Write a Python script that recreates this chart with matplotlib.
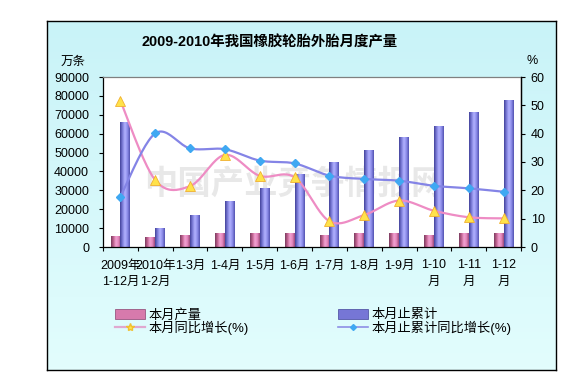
import numpy as np
import matplotlib
matplotlib.use('Agg')
import matplotlib.pyplot as plt
from matplotlib.colors import LinearSegmentedColormap
from matplotlib.patches import Patch
from matplotlib.lines import Line2D

plt.rcParams['font.family'] = ['Liberation Sans', 'Noto Sans CJK SC']

# Data
categories = ['2009年\n1-12月', '2010年\n1-2月', '1-3月', '1-4月', '1-5月', '1-6月',
              '1-7月', '1-8月', '1-9月', '1-10\n月', '1-11\n月', '1-12\n月']
month_output = [5800, 4800, 6300, 7400, 7400, 7400, 6300, 7400, 7400, 6300, 7400, 7400]
cum_output = [65700, 10000, 16900, 24300, 31200, 38600, 44600, 51300, 58200, 64000, 71000, 77800]
month_yoy = [51.6, 23.6, 21.5, 32.5, 25.1, 24.6, 9.1, 11.3, 16.4, 12.8, 10.5, 10.1]
cum_yoy = [17.8, 40.1, 34.8, 34.5, 30.5, 29.5, 25.2, 24.0, 23.4, 21.6, 20.7, 19.5]


def smooth(y, n=24):
    # Excel-style smoothed line (bezier through the points)
    x = np.arange(len(y), dtype=float)
    y = np.asarray(y, dtype=float)
    xs, ys = [], []
    for i in range(len(y) - 1):
        i0, i3 = max(i - 1, 0), min(i + 2, len(y) - 1)
        p0, p1, p2, p3 = [np.array([x[k], y[k]]) for k in (i0, i, i + 1, i3)]
        c1 = p1 + (p2 - p0) / 6
        c2 = p2 - (p3 - p1) / 6
        t = np.linspace(0, 1, n)[:, None]
        pts = (1 - t) ** 3 * p1 + 3 * (1 - t) ** 2 * t * c1 + 3 * (1 - t) * t ** 2 * c2 + t ** 3 * p2
        xs.extend(pts[:, 0]); ys.extend(pts[:, 1])
    return xs, ys


W, H = 573, 380
fig = plt.figure(figsize=(W / 100, H / 100), dpi=100)

# cyan background box
bg = fig.add_axes([47 / W, 1 - 370 / H, (556 - 47) / W, (370 - 21) / H])
bg_cmap = LinearSegmentedColormap.from_list('bg', ['#c9f3f8', '#e2fdfd'])
bg.imshow(np.linspace(0, 1, 100)[:, None], aspect='auto', cmap=bg_cmap, extent=[0, 1, 0, 1])
bg.set_xticks([]); bg.set_yticks([])
for s in bg.spines.values():
    s.set_color('black'); s.set_linewidth(1)

ax = fig.add_axes([103 / W, 1 - 247 / H, (521 - 103) / W, 170 / H])
ax.set_facecolor('white')

x = np.arange(len(categories))
bw = 0.28
pink_cmap = LinearSegmentedColormap.from_list('pk', ['#7a3b60', '#c0628f', '#f2a2d2', '#e487bd', '#9a4878'])
blue_cmap = LinearSegmentedColormap.from_list('bl', ['#42429a', '#7c7cd8', '#b2b2ff', '#8d8dea', '#5252b0'])
grad = np.linspace(0, 1, 64)[None, :]

for xs_, vals, cmap in ((x - bw / 2, month_output, pink_cmap), (x + bw / 2, cum_output, blue_cmap)):
    bars = ax.bar(xs_, vals, bw, color='none', edgecolor='none', zorder=2)
    for b in bars:
        x0, w, h = b.get_x(), b.get_width(), b.get_height()
        ax.imshow(grad, aspect='auto', cmap=cmap, extent=[x0, x0 + w, 0, h], zorder=2)

ax.set_xlim(-0.5, 11.5)
ax.set_ylim(0, 90000)
ax.set_yticks(np.arange(0, 90001, 10000))
ax.set_xticks(x)
ax.set_xticklabels(categories, fontsize=9, linespacing=1.45)
ax.set_xticks(np.arange(-0.5, 12, 1), minor=True)
ax.tick_params(axis='x', which='major', length=0, pad=9)
ax.tick_params(axis='x', which='minor', length=3, direction='out', width=0.8)
ax.tick_params(axis='y', length=3, width=0.8, pad=7, labelsize=9)
for k in ('left', 'bottom'):
    ax.spines[k].set_color('black')
ax.spines['top'].set_color('#808080')
ax.spines['right'].set_color('black')
for s in ax.spines.values():
    s.set_linewidth(0.9)

# watermark
ax.text(5.0, 33000, '中国产业竞争情报网', fontsize=24, color='#dcdcdc', alpha=0.65,
        ha='center', va='center', fontweight='bold', zorder=1.5)

ax2 = ax.twinx()
ax2.set_ylim(0, 60)
ax2.set_yticks(np.arange(0, 61, 10))
ax2.tick_params(axis='y', length=3, width=0.8, pad=4, labelsize=9)
ax2.spines['right'].set_color('black')
ax2.spines['right'].set_linewidth(0.9)
for k in ('left', 'top', 'bottom'):
    ax2.spines[k].set_visible(False)

sx, sy = smooth(month_yoy)
ax2.plot(sx, sy, color='#ee8cc4', lw=1.6, zorder=3)
ax2.plot(x, month_yoy, ls='none', marker='^', ms=6.5, mfc='#ffe24a', mec='#f0b030', mew=0.6, zorder=4)
sx, sy = smooth(cum_yoy)
ax2.plot(sx, sy, color='#8484e6', lw=1.6, zorder=3)
ax2.plot(x, cum_yoy, ls='none', marker='D', ms=4.5, mfc='#3fa8f2', mec='#3fa8f2', zorder=4)

fig.text(73 / W, 1 - 62 / H, '万条', fontsize=9, ha='center', va='center')
fig.text(532 / W, 1 - 61 / H, '%', fontsize=9, ha='center', va='center')
fig.text(270 / W, 1 - 42 / H, '2009-2010年我国橡胶轮胎外胎月度产量', fontsize=10.4,
         fontweight='bold', ha='center', va='center')

handles = [
    Patch(facecolor='#d77aac', edgecolor='#8a4470', lw=0.5),
    Line2D([], [], color='#e0a8d0', lw=1.6, marker='*', ms=6, mfc='#ffe24a', mec='#f0c030'),
    Patch(facecolor='#7676d6', edgecolor='#44449a', lw=0.5),
    Line2D([], [], color='#8e8ee6', lw=1.2, marker='D', ms=3, mfc='#3fa8f2', mec='#3fa8f2'),
]
labels = ['本月产量', '本月同比增长(%)', '本月止累计', '本月止累计同比增长(%)']
fig.legend(handles, labels, loc='upper left', bbox_to_anchor=(108 / W, 1 - 302 / H), ncol=2,
           frameon=False, fontsize=9.5, handlelength=2.3, handleheight=0.8, handletextpad=0.3,
           labelspacing=-0.05, columnspacing=6.7, borderpad=0)

fig.savefig('out.png', dpi=100)
